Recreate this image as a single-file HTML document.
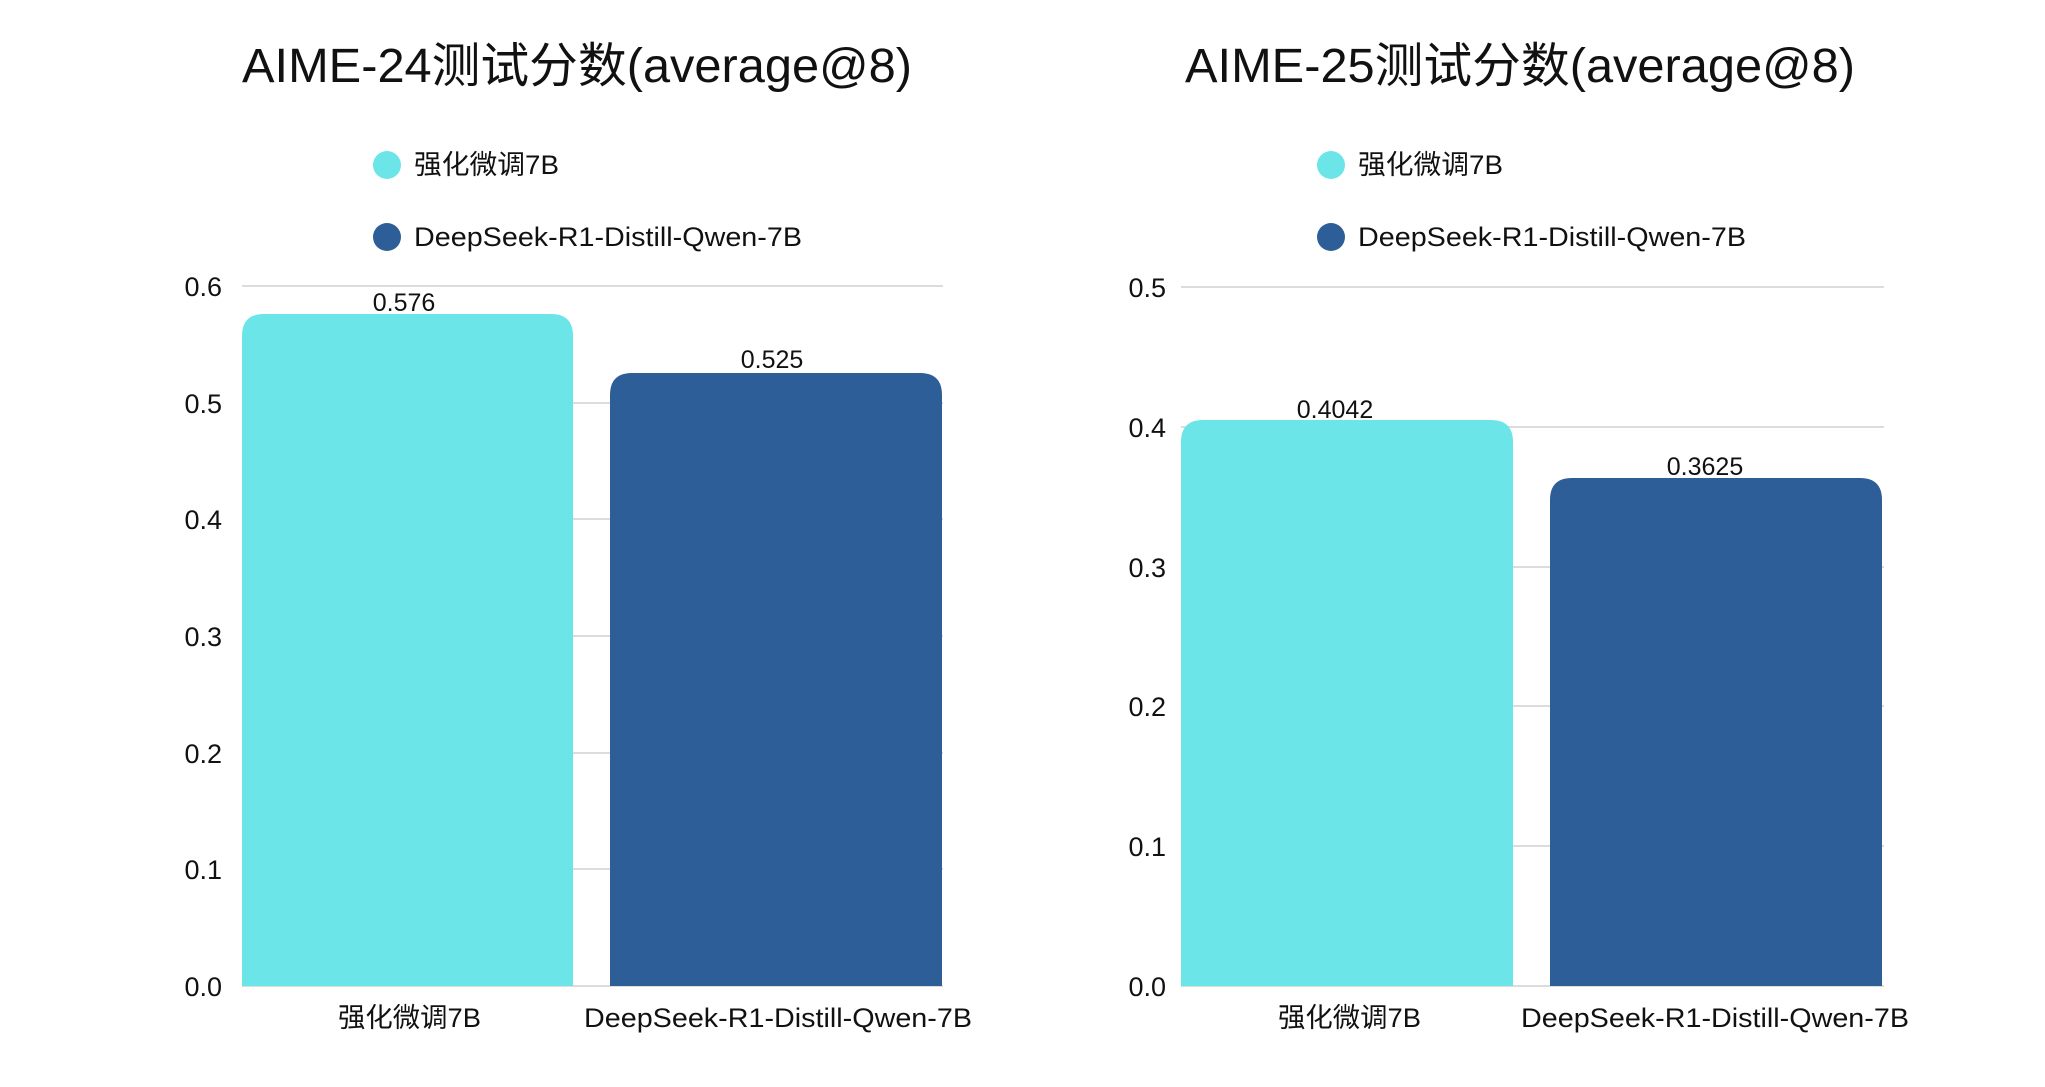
<!DOCTYPE html>
<html><head><meta charset="utf-8"><style>
html,body{margin:0;padding:0;background:#fff;}
svg{display:block;}
text{font-family:"Liberation Sans","Noto Sans CJK SC",sans-serif;fill:#111;}
</style></head><body>
<svg width="2045" height="1087" viewBox="0 0 2045 1087" xmlns="http://www.w3.org/2000/svg">
<rect width="2045" height="1087" fill="#fff"/>
<!-- LEFT CHART -->
<text x="242" y="82" font-size="48" textLength="670" lengthAdjust="spacingAndGlyphs">AIME-24测试分数(average@8)</text>
<circle cx="387" cy="165" r="14" fill="#6ce5e8"/>
<text x="414" y="174" font-size="27" textLength="145" lengthAdjust="spacingAndGlyphs">强化微调7B</text>
<circle cx="387" cy="237" r="14" fill="#2e5e97"/>
<text x="414" y="246" font-size="27" textLength="388" lengthAdjust="spacingAndGlyphs">DeepSeek-R1-Distill-Qwen-7B</text>
<g stroke="#dcdcdc" stroke-width="2">
<line x1="242" y1="286" x2="943" y2="286"/>
<line x1="242" y1="403" x2="943" y2="403"/>
<line x1="242" y1="519" x2="943" y2="519"/>
<line x1="242" y1="636" x2="943" y2="636"/>
<line x1="242" y1="753" x2="943" y2="753"/>
<line x1="242" y1="869" x2="943" y2="869"/>
<line x1="242" y1="986" x2="943" y2="986"/>
</g>
<g font-size="27" text-anchor="end">
<text x="222" y="296">0.6</text><text x="222" y="413">0.5</text><text x="222" y="529">0.4</text>
<text x="222" y="646">0.3</text><text x="222" y="763">0.2</text><text x="222" y="879">0.1</text><text x="222" y="996">0.0</text>
</g>
<path d="M242 986 V336 Q242 314 264 314 H551 Q573 314 573 336 V986 Z" fill="#6ce5e8"/>
<path d="M610 986 V395 Q610 373 632 373 H920 Q942 373 942 395 V986 Z" fill="#2e5e97"/>
<text x="404" y="311" font-size="25" text-anchor="middle">0.576</text>
<text x="772" y="368" font-size="25" text-anchor="middle">0.525</text>
<text x="338" y="1027" font-size="27" textLength="143" lengthAdjust="spacingAndGlyphs">强化微调7B</text>
<text x="584" y="1027" font-size="27" textLength="388" lengthAdjust="spacingAndGlyphs">DeepSeek-R1-Distill-Qwen-7B</text>
<!-- RIGHT CHART -->
<text x="1185" y="82" font-size="48" textLength="670" lengthAdjust="spacingAndGlyphs">AIME-25测试分数(average@8)</text>
<circle cx="1331" cy="165" r="14" fill="#6ce5e8"/>
<text x="1358" y="174" font-size="27" textLength="145" lengthAdjust="spacingAndGlyphs">强化微调7B</text>
<circle cx="1331" cy="237" r="14" fill="#2e5e97"/>
<text x="1358" y="246" font-size="27" textLength="388" lengthAdjust="spacingAndGlyphs">DeepSeek-R1-Distill-Qwen-7B</text>
<g stroke="#dcdcdc" stroke-width="2">
<line x1="1181" y1="287" x2="1884" y2="287"/>
<line x1="1181" y1="427" x2="1884" y2="427"/>
<line x1="1181" y1="567" x2="1884" y2="567"/>
<line x1="1181" y1="706" x2="1884" y2="706"/>
<line x1="1181" y1="846" x2="1884" y2="846"/>
<line x1="1181" y1="986" x2="1884" y2="986"/>
</g>
<g font-size="27" text-anchor="end">
<text x="1166" y="297">0.5</text><text x="1166" y="437">0.4</text><text x="1166" y="577">0.3</text>
<text x="1166" y="716">0.2</text><text x="1166" y="856">0.1</text><text x="1166" y="996">0.0</text>
</g>
<path d="M1181 986 V442 Q1181 420 1203 420 H1491 Q1513 420 1513 442 V986 Z" fill="#6ce5e8"/>
<path d="M1550 986 V500 Q1550 478 1572 478 H1860 Q1882 478 1882 500 V986 Z" fill="#2e5e97"/>
<text x="1335" y="418" font-size="25" text-anchor="middle">0.4042</text>
<text x="1705" y="475" font-size="25" text-anchor="middle">0.3625</text>
<text x="1278" y="1027" font-size="27" textLength="143" lengthAdjust="spacingAndGlyphs">强化微调7B</text>
<text x="1521" y="1027" font-size="27" textLength="388" lengthAdjust="spacingAndGlyphs">DeepSeek-R1-Distill-Qwen-7B</text>
</svg>
</body></html>
